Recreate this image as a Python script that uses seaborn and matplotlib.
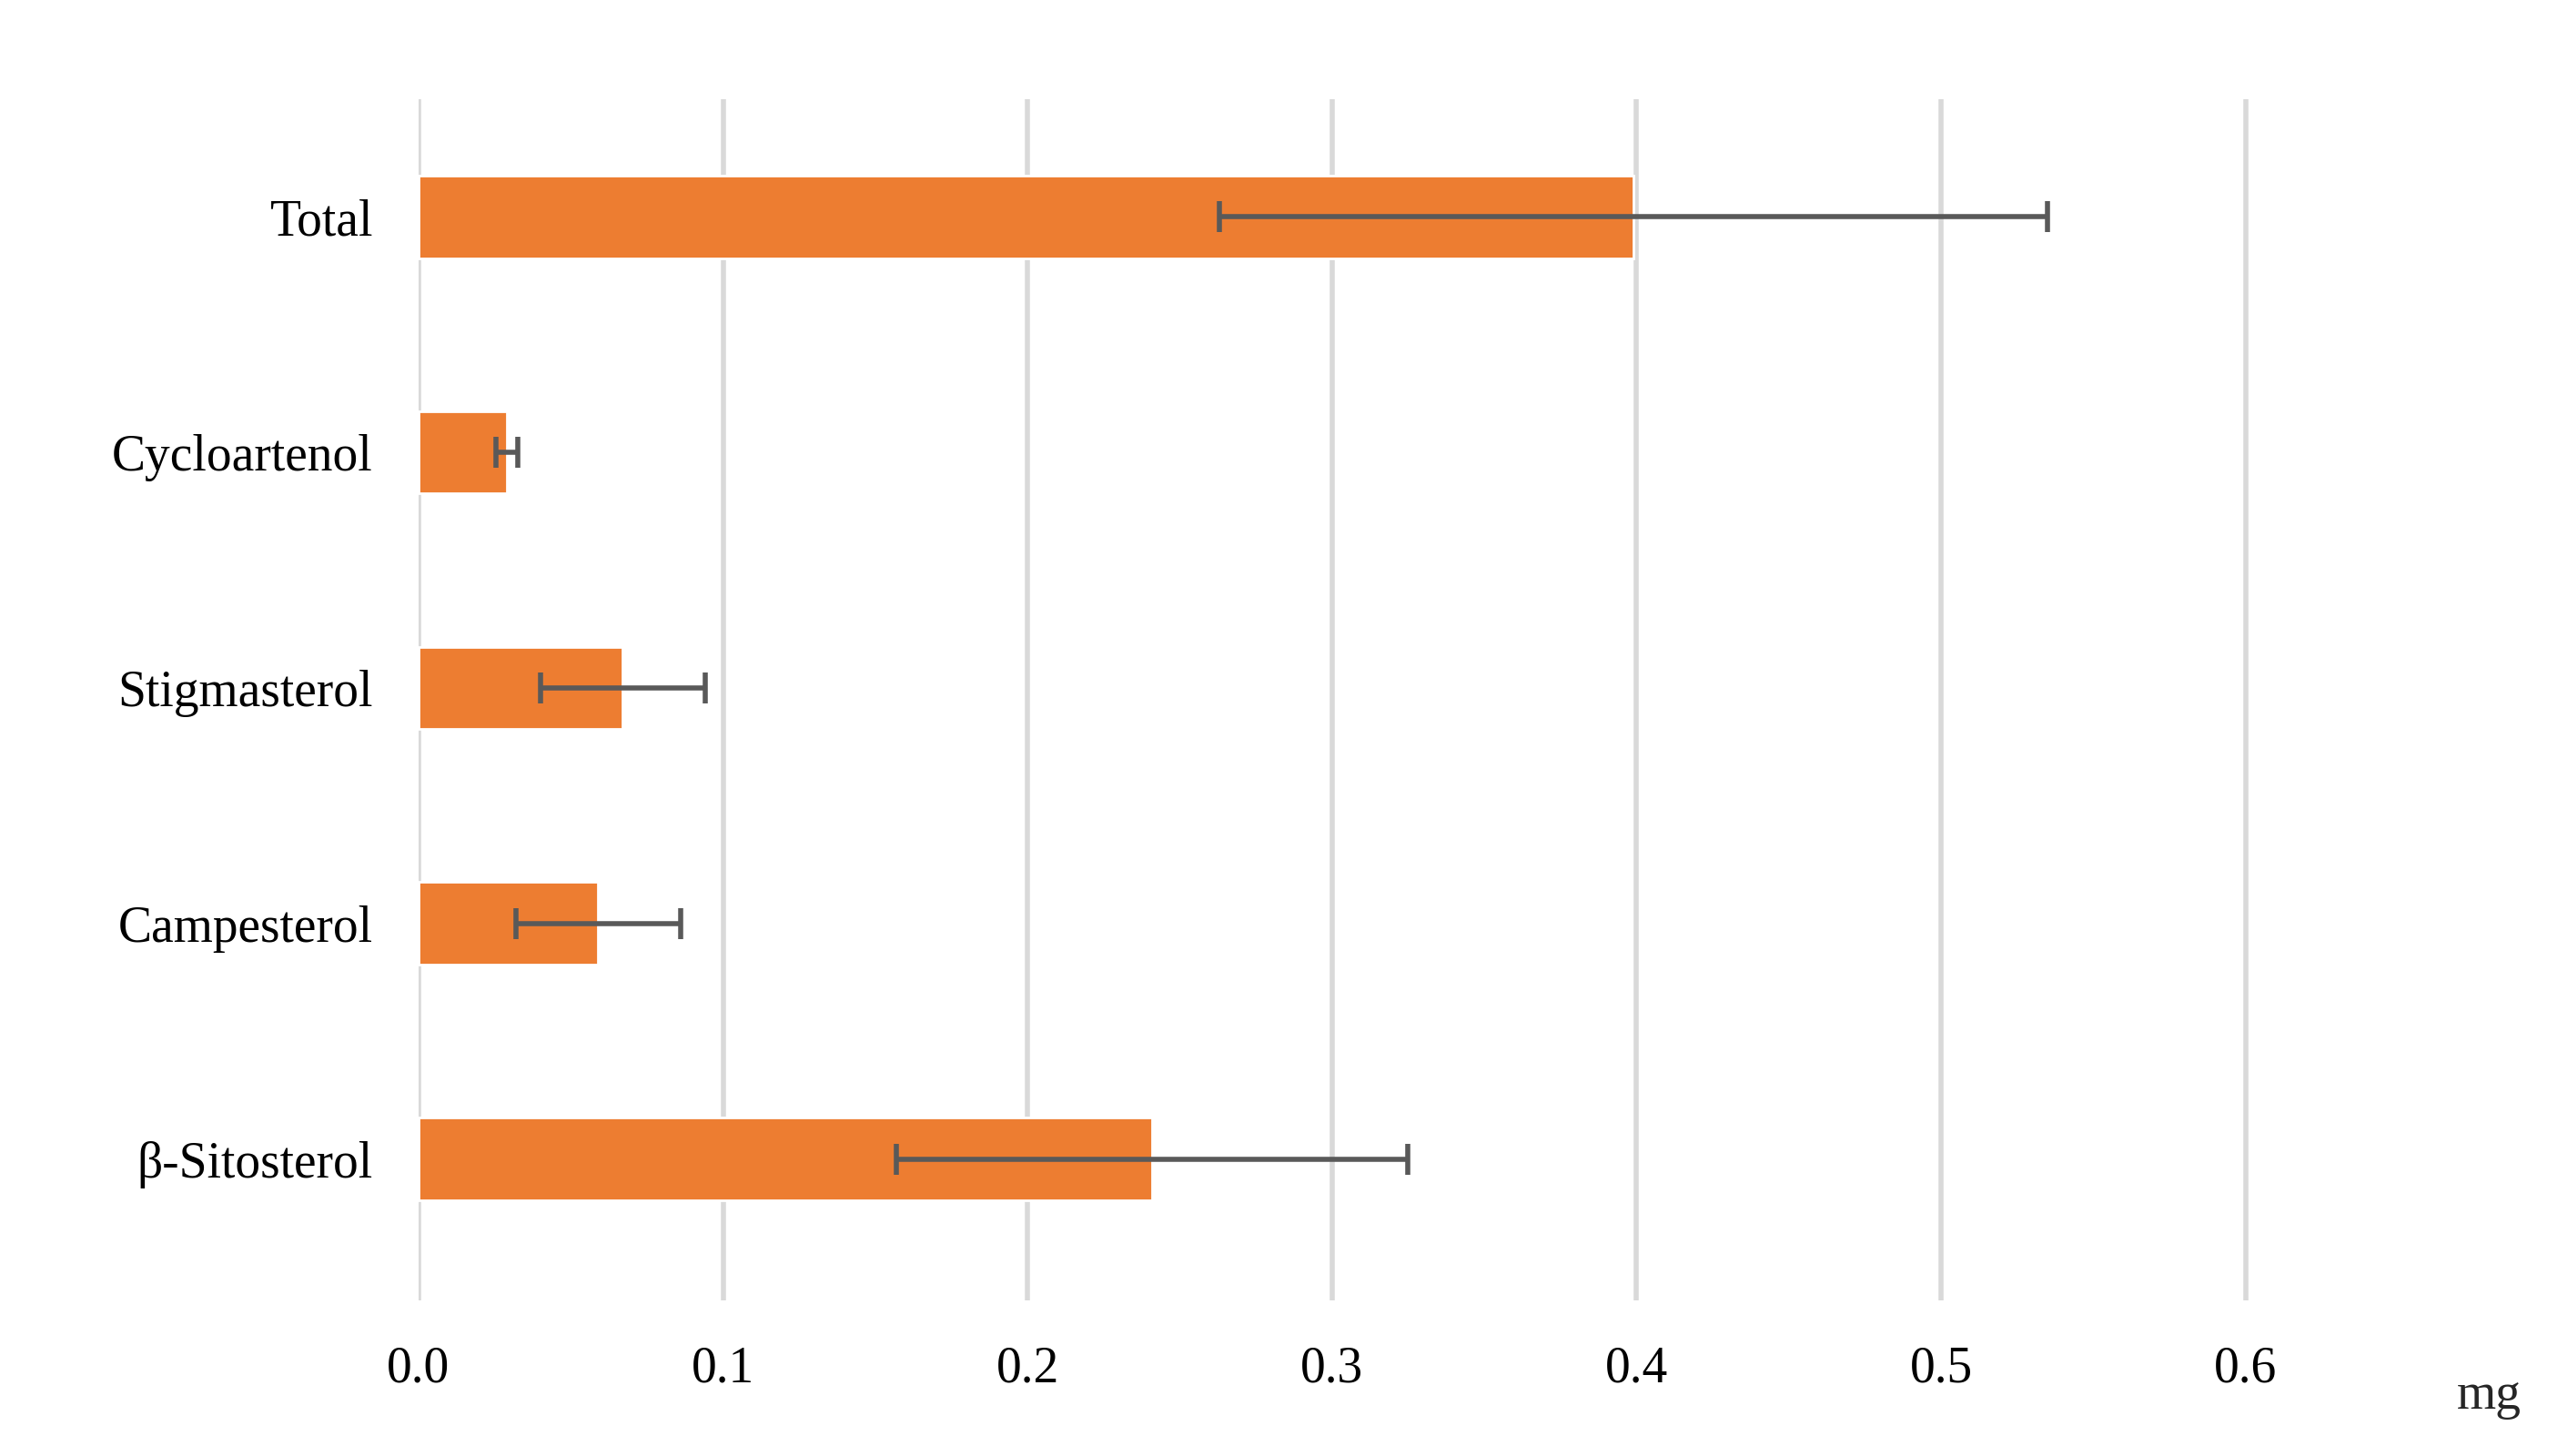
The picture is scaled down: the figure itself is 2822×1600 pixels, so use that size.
import matplotlib
matplotlib.use("Agg")
import matplotlib.pyplot as plt
import seaborn as sns
import pandas as pd

compounds = ["Total", "Cycloartenol", "Stigmasterol", "Campesterol", "β-Sitosterol"]
means = [0.399, 0.029, 0.067, 0.059, 0.241]
errors = [0.136, 0.0035, 0.027, 0.027, 0.084]
xticks = [0.0, 0.1, 0.2, 0.3, 0.4, 0.5, 0.6]

df = pd.DataFrame({"compound": compounds, "mg": means})

sns.set_style("white")
plt.rcParams['font.family'] = ['Liberation Serif', 'DejaVu Serif']

fig = plt.figure(figsize=(14.11, 8), dpi=200)
ax = fig.add_axes([0.163, 0.107, 0.83, 0.825])

for t in xticks:
    ax.axvline(t, color='#d9d9d9', linewidth=2, zorder=0)

sns.barplot(data=df, x="mg", y="compound", orient="h", color="#ed7d31",
            saturation=1, width=0.35, ax=ax, zorder=2)
ax.errorbar(means, range(len(compounds)), xerr=errors, fmt='none',
            ecolor='#595959', elinewidth=2, capsize=6, capthick=2, zorder=3)

ax.set_xlim(0, 0.7)
ax.set_ylim(4.6, -0.5)
ax.set_xticks(xticks)
ax.set_xticklabels([f"{t:.1f}" for t in xticks])
ax.set_xlabel("")
ax.set_ylabel("")
ax.tick_params(axis='both', length=0, labelsize=20, colors='black')
ax.tick_params(axis='x', pad=18)
ax.tick_params(axis='y', pad=18)
for s in ax.spines.values():
    s.set_visible(False)
ax.text(0.68, -0.06, "mg", transform=ax.get_xaxis_transform(), ha='center',
        va='top', fontsize=20)

fig.savefig("out.png", dpi=200)
